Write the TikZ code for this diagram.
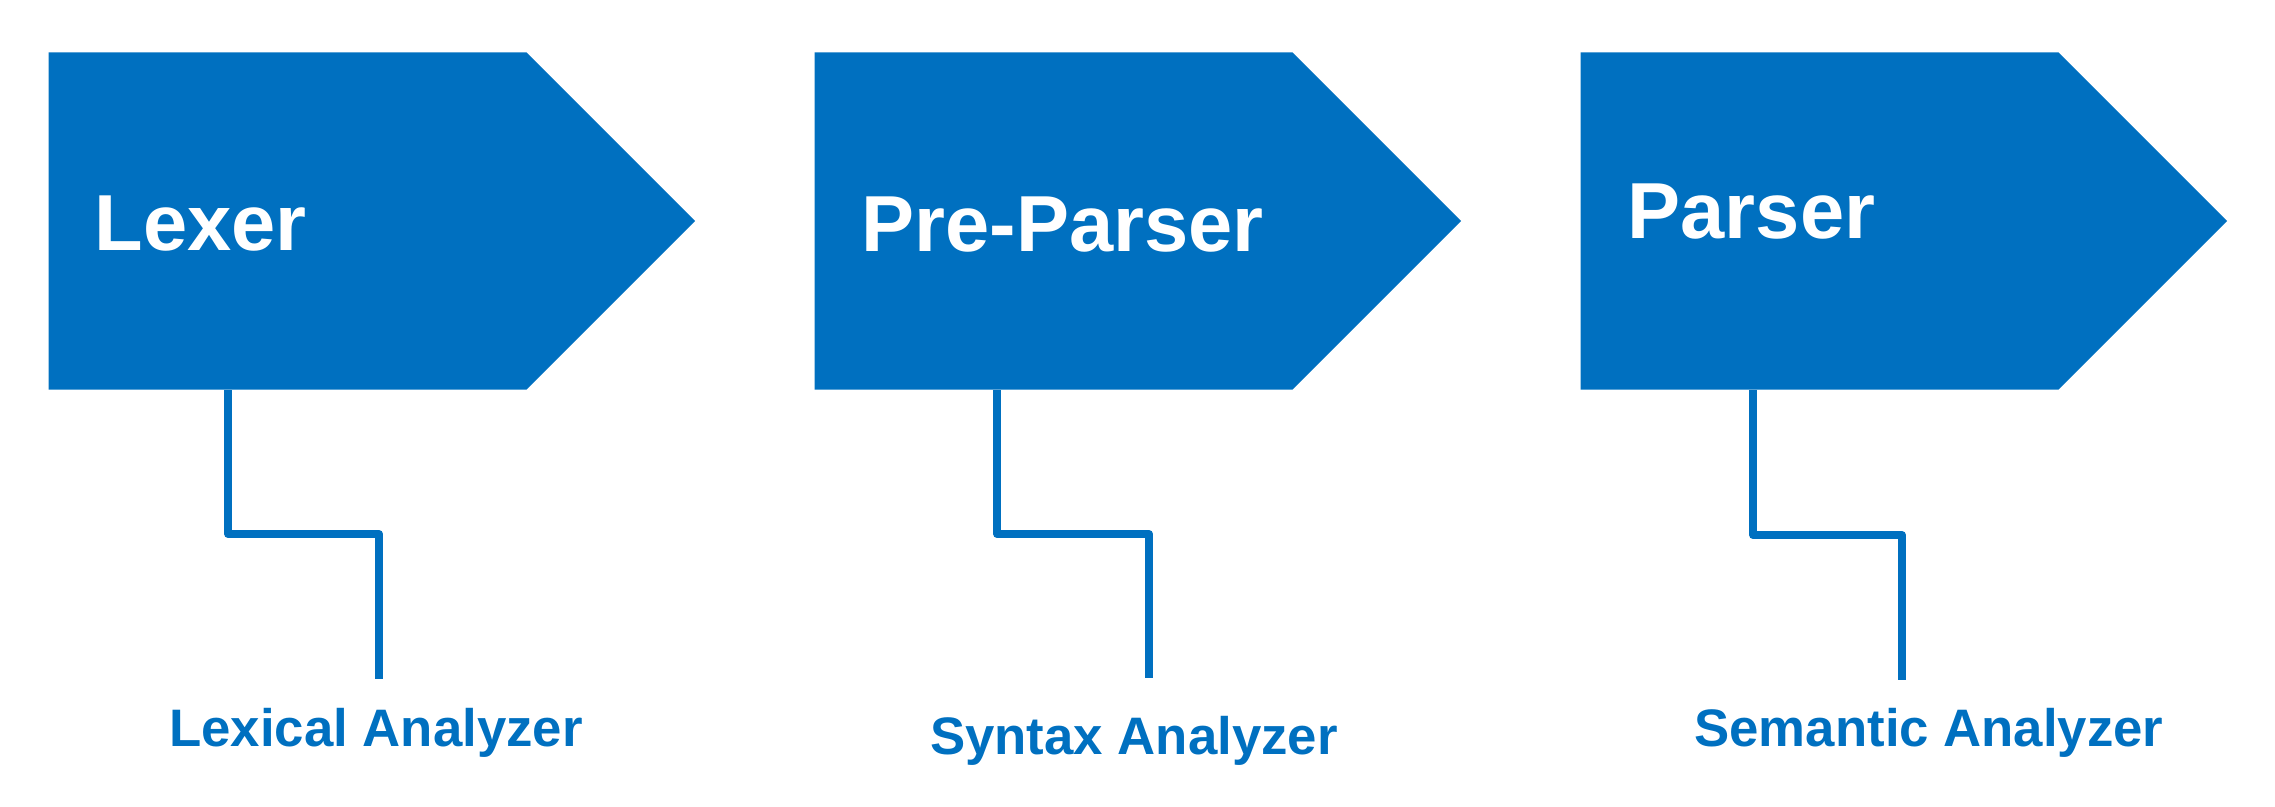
\documentclass[tikz,border=0pt]{standalone}
\usepackage{fontspec}
\setmainfont{Liberation Sans}
\usetikzlibrary{shapes.symbols}
\definecolor{stageblue}{RGB}{0,112,192}

\begin{document}
\begin{tikzpicture}[x=0.01cm,y=-0.01cm,
    stage/.style={signal, signal to=east, signal pointer angle=90, fill=stageblue,
      inner sep=0pt, minimum width=6.46cm, minimum height=3.37cm, anchor=west},
    stagename/.style={anchor=base west, text=white, inner sep=0pt,
      font=\bfseries\fontsize{22.6}{26}\selectfont},
    stagerole/.style={anchor=base, text=stageblue, inner sep=0pt,
      font=\bfseries\fontsize{15}{18}\selectfont},
    wire/.style={draw=stageblue, line width=0.08cm, line join=round}]
  \useasboundingbox (0,0) rectangle (2275,807);

  % the three stages
  \node[stage] (lexer) at (48,221) {};
  \node[stage] (preparser) at (814,221) {};
  \node[stage] (parser) at (1580,221) {};

  \node[stagename] (lexername) at (94,251) {Lexer};
  \node[stagename] (preparsername) at (861,252) {Pre-Parser};
  \node[stagename] (parsername) at (1627,239) {Parser};

  % what each stage is
  \node[stagerole] (lexrole) at (376,747) {Lexical Analyzer};
  \node[stagerole] (synrole) at (1134,755) {Syntax Analyzer};
  \node[stagerole] (semrole) at (1929,747) {Semantic Analyzer};

  \coordinate (lexend) at (379,679);
  \coordinate (synend) at (1149,678);
  \coordinate (semend) at (1902,680);

  \draw[wire] ([xshift=1.80cm]lexer.south west) |- (lexend |- 0,534) -- (lexend);
  \draw[wire] ([xshift=1.83cm]preparser.south west) |- (synend |- 0,534) -- (synend);
  \draw[wire] ([xshift=1.73cm]parser.south west) |- (semend |- 0,535) -- (semend);
\end{tikzpicture}
\end{document}
